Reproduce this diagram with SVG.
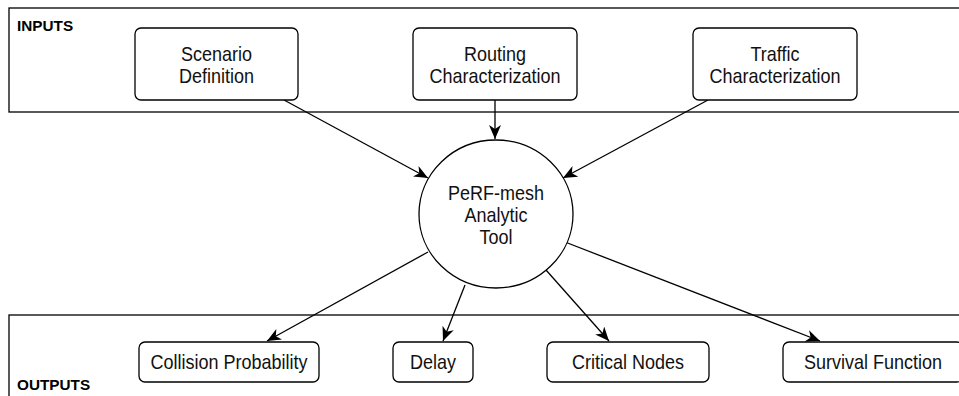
<svg xmlns="http://www.w3.org/2000/svg" width="959" height="396" viewBox="0 0 959 396">
  <style>
    .frame { fill: none; stroke: #000; stroke-width: 1.3; }
    .box { fill: #fff; stroke: #000; stroke-width: 1.3; }
    .lbl { font-family: "Liberation Sans", Arial, sans-serif; font-size: 18px; fill: #111; text-anchor: middle; }
    .title { font-family: "Liberation Sans", Arial, sans-serif; font-size: 15.3px; font-weight: bold; fill: #000; }
    .edge { fill: none; stroke: #000; stroke-width: 1.3; marker-end: url(#arrow); }
  </style>
  <defs>
    <marker id="arrow" viewBox="0 0 14 12" refX="14" refY="6" markerWidth="14" markerHeight="12" orient="auto" markerUnits="userSpaceOnUse">
      <path d="M0,0 L14,6 L0,12 L4,6 Z" fill="#000"/>
    </marker>
  </defs>
  <rect width="959" height="396" fill="#fff"/>

  <!-- section frames -->
  <g id="inputs-frame">
    <rect class="frame" x="9" y="8" width="960" height="104"/>
    <text class="title" x="17" y="31">INPUTS</text>
  </g>
  <g id="outputs-frame">
    <rect class="frame" x="9" y="315" width="960" height="100"/>
    <text class="title" x="17" y="390">OUTPUTS</text>
  </g>

  <!-- connectors -->
  <g id="connectors">
    <line class="edge" x1="284" y1="100" x2="428" y2="178"/>
    <line class="edge" x1="495" y1="100" x2="495" y2="139"/>
    <line class="edge" x1="708" y1="100" x2="563" y2="178"/>
    <line class="edge" x1="428" y1="252" x2="267" y2="341"/>
    <line class="edge" x1="465" y1="285" x2="443" y2="341"/>
    <line class="edge" x1="546" y1="270" x2="609" y2="341"/>
    <line class="edge" x1="565" y1="242" x2="820" y2="341"/>
  </g>

  <!-- input nodes -->
  <g id="scenario">
    <rect class="box" x="135" y="28" width="163" height="72" rx="6"/>
    <text class="lbl" transform="translate(216.5,61) scale(1,1.08)">Scenario</text>
    <text class="lbl" transform="translate(216.5,83) scale(1,1.08)">Definition</text>
  </g>
  <g id="routing">
    <rect class="box" x="413" y="28" width="164" height="72" rx="6"/>
    <text class="lbl" transform="translate(495,61) scale(1,1.08)">Routing</text>
    <text class="lbl" transform="translate(495,83) scale(1,1.08)">Characterization</text>
  </g>
  <g id="traffic">
    <rect class="box" x="693" y="28" width="164" height="72" rx="6"/>
    <text class="lbl" transform="translate(775,61) scale(1,1.08)">Traffic</text>
    <text class="lbl" transform="translate(775,83) scale(1,1.08)">Characterization</text>
  </g>

  <!-- central tool -->
  <g id="perf-mesh">
    <ellipse class="box" cx="496" cy="214" rx="77" ry="74"/>
    <text class="lbl" transform="translate(496,200) scale(1,1.08)">PeRF-mesh</text>
    <text class="lbl" transform="translate(496,222) scale(1,1.08)">Analytic</text>
    <text class="lbl" transform="translate(496,244) scale(1,1.08)">Tool</text>
  </g>

  <!-- output nodes -->
  <g id="collision">
    <rect class="box" x="139" y="342" width="180" height="40" rx="6"/>
    <text class="lbl" transform="translate(229,369) scale(1,1.08)">Collision Probability</text>
  </g>
  <g id="delay">
    <rect class="box" x="393" y="342" width="80" height="40" rx="6"/>
    <text class="lbl" transform="translate(433,369) scale(1,1.08)">Delay</text>
  </g>
  <g id="critical">
    <rect class="box" x="547" y="342" width="162" height="40" rx="6"/>
    <text class="lbl" transform="translate(628,369) scale(1,1.08)">Critical Nodes</text>
  </g>
  <g id="survival">
    <rect class="box" x="783" y="342" width="180" height="40" rx="6"/>
    <text class="lbl" transform="translate(873,369) scale(1,1.08)">Survival Function</text>
  </g>
</svg>
